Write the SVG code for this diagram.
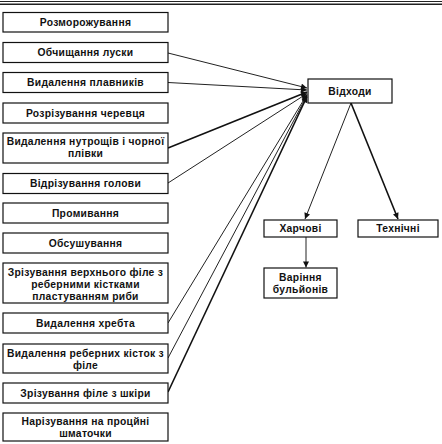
<svg xmlns="http://www.w3.org/2000/svg" width="442" height="444" viewBox="0 0 442 444">
<style>
  .box { fill: #fff; stroke: #111; stroke-width: 1.2; }
  .t { font-family: "Liberation Sans", Arial, sans-serif; font-weight: bold; font-size: 10.3px; letter-spacing: 0.3px; fill: #111; text-anchor: middle; }
  .c { fill: none; stroke: #222; stroke-width: 1; }
  .ct { fill: none; stroke: #111; stroke-width: 1.6; }
</style>
<defs>
  <marker id="ah" viewBox="0 0 10 10" refX="10" refY="5" markerWidth="7" markerHeight="6" markerUnits="userSpaceOnUse" orient="auto">
    <path d="M0,0 L10,5 L0,10 Z" fill="#111"/>
  </marker>
</defs>
<rect width="442" height="444" fill="#fff"/>
<g id="header">
  <line x1="0" y1="1.5" x2="442" y2="1.5" stroke="#222" stroke-width="1"/>
  <line x1="0" y1="4.3" x2="442" y2="4.3" stroke="#222" stroke-width="1.4"/>
</g>
<g id="connectors">
  <line class="c" x1="168" y1="53" x2="307" y2="88" marker-end="url(#ah)"/>
  <line class="c" x1="168" y1="82.5" x2="307" y2="90" marker-end="url(#ah)"/>
  <line class="ct" x1="168" y1="148" x2="307" y2="92" marker-end="url(#ah)"/>
  <line class="c" x1="168" y1="183" x2="307" y2="93.5" marker-end="url(#ah)"/>
  <line class="c" x1="168" y1="323" x2="307" y2="94.5" marker-end="url(#ah)"/>
  <line class="c" x1="168" y1="358" x2="307" y2="95.5" marker-end="url(#ah)"/>
  <line class="ct" x1="168" y1="392" x2="307" y2="96.5" marker-end="url(#ah)"/>
  <line class="c" x1="351" y1="103" x2="305" y2="219" marker-end="url(#ah)"/>
  <line class="ct" x1="351" y1="103" x2="398" y2="219" marker-end="url(#ah)"/>
  <line class="c" x1="306" y1="237" x2="306" y2="267.5" marker-end="url(#ah)"/>
</g>
<g id="n1"><rect class="box" x="3" y="12.5" width="165" height="19.5"/><text class="t" x="85.5" y="26">Розморожування</text></g>
<g id="n2"><rect class="box" x="3" y="42.5" width="165" height="20"/><text class="t" x="85.5" y="56">Обчищання луски</text></g>
<g id="n3"><rect class="box" x="3" y="72.5" width="165" height="20"/><text class="t" x="85.5" y="86">Видалення плавників</text></g>
<g id="n4"><rect class="box" x="3" y="103" width="165" height="20"/><text class="t" x="85.5" y="116.5">Розрізування черевця</text></g>
<g id="n5"><rect class="box" x="3" y="133" width="165" height="30"/><text class="t" x="85.5" y="145">Видалення нутрощів і чорної</text><text class="t" x="85.5" y="157">плівки</text></g>
<g id="n6"><rect class="box" x="3" y="173.5" width="165" height="20"/><text class="t" x="85.5" y="187">Відрізування голови</text></g>
<g id="n7"><rect class="box" x="3" y="203" width="165" height="20"/><text class="t" x="85.5" y="216.5">Промивання</text></g>
<g id="n8"><rect class="box" x="3" y="233" width="165" height="20"/><text class="t" x="85.5" y="246.5">Обсушування</text></g>
<g id="n9"><rect class="box" x="3" y="263" width="165" height="40"/><text class="t" x="85.5" y="276">Зрізування верхнього філе з</text><text class="t" x="85.5" y="288">реберними кістками</text><text class="t" x="85.5" y="300">пластуванням риби</text></g>
<g id="n10"><rect class="box" x="3" y="313" width="165" height="20"/><text class="t" x="85.5" y="326.5">Видалення хребта</text></g>
<g id="n11"><rect class="box" x="3" y="344" width="165" height="29"/><text class="t" x="85.5" y="357">Видалення реберних кісток з</text><text class="t" x="85.5" y="369">філе</text></g>
<g id="n12"><rect class="box" x="3" y="383" width="165" height="20"/><text class="t" x="85.5" y="396.5">Зрізування філе з шкіри</text></g>
<g id="n13"><rect class="box" x="3" y="413" width="165" height="28"/><text class="t" x="85.5" y="424.5">Нарізування на процйні</text><text class="t" x="85.5" y="436.5">шматочки</text></g>
<g id="waste"><rect class="box" x="308" y="79" width="84" height="24" stroke-width="1.5"/><text class="t" x="350" y="94.5">Відходи</text></g>
<g id="food"><rect class="box" x="264" y="220" width="73" height="17"/><text class="t" x="300.5" y="232">Харчові</text></g>
<g id="tech"><rect class="box" x="358" y="220" width="80" height="17"/><text class="t" x="398" y="232">Технічні</text></g>
<g id="broth"><rect class="box" x="264" y="268" width="73" height="30"/><text class="t" x="300.5" y="281">Варіння</text><text class="t" x="300.5" y="293">бульйонів</text></g>
</svg>
